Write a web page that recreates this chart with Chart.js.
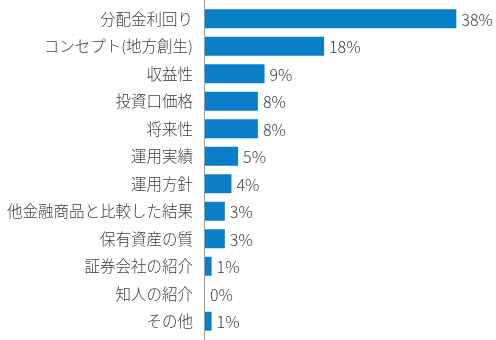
<!DOCTYPE html>
<html>
<head>
<meta charset="utf-8">
<script src="https://cdn.jsdelivr.net/npm/chart.js@4"></script>
<style>
  html, body { margin: 0; padding: 0; background: #fff; }
  #wrap { width: 496px; height: 340px; position: relative; }
</style>
</head>
<body>
<div id="wrap"><canvas id="c"></canvas></div>
<script>
const categories = [
  "分配金利回り",
  "コンセプト(地方創生)",
  "収益性",
  "投資口価格",
  "将来性",
  "運用実績",
  "運用方針",
  "他金融商品と比較した結果",
  "保有資産の質",
  "証券会社の紹介",
  "知人の紹介",
  "その他",
];
const values = [38, 18, 9, 8, 8, 5, 4, 3, 3, 1, 0, 1];

const FONT = '"Noto Sans CJK JP", "Noto Sans", sans-serif';
const TEXT = "#404040";
const BAR = "#0a7fc8";

// full-height axis line + value labels
const extras = {
  id: "extras",
  afterDatasetsDraw(chart) {
    const { ctx, chartArea } = chart;
    ctx.save();
    ctx.strokeStyle = "#9a9a9a";
    ctx.lineWidth = 1;
    ctx.beginPath();
    ctx.moveTo(Math.round(chartArea.left) - 0.5, 0);
    ctx.lineTo(Math.round(chartArea.left) - 0.5, chart.height);
    ctx.stroke();

    ctx.fillStyle = TEXT;
    ctx.font = "300 16px " + FONT;
    ctx.textBaseline = "middle";
    ctx.textAlign = "left";
    chart.getDatasetMeta(0).data.forEach((bar, i) => {
      ctx.fillText(values[i] + "%", bar.x + 5, bar.y + 1);
    });
    ctx.restore();
  },
};

new Chart(document.getElementById("c"), {
  type: "bar",
  data: {
    labels: categories,
    datasets: [{
      data: values,
      backgroundColor: BAR,
      barPercentage: 0.69,
      categoryPercentage: 1,
    }],
  },
  options: {
    indexAxis: "y",
    responsive: true,
    maintainAspectRatio: false,
    animation: false,
    layout: { padding: { top: 5, bottom: 5, right: 0, left: 0 } },
    plugins: { legend: { display: false }, tooltip: { enabled: false } },
    scales: {
      x: { display: false, min: 0, max: 44 },
      y: {
        grid: { display: false, drawTicks: false },
        border: { display: false },
        ticks: {
          color: TEXT,
          padding: 12,
          font: { size: 15.5, weight: 300, family: FONT },
        },
        afterFit(scale) {
          scale.width = 205;
          scale.paddingTop = 0;
          scale.paddingBottom = 0;
        },
      },
    },
  },
  plugins: [extras],
});
</script>
</body>
</html>
